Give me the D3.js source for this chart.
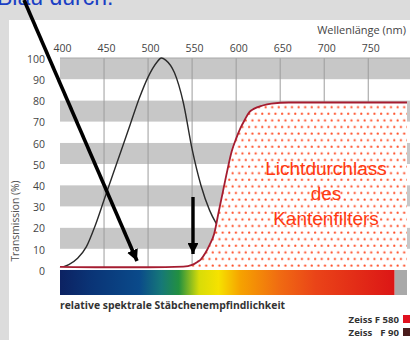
<!DOCTYPE html>
<html>
<head>
<meta charset="utf-8">
<script src="https://cdn.jsdelivr.net/npm/d3@7"></script>
<style>
  html, body { margin: 0; padding: 0; background: #dcdcdc; }
  svg { display: block; }
</style>
</head>
<body>
<svg id="chart" width="410" height="340"></svg>
<script>
// Wavelength tick labels (nm) and transmission ticks (%)
const xTicks = [400, 450, 500, 550, 600, 650, 700, 750];
const yTicks = [0, 10, 20, 30, 40, 50, 60, 70, 80, 90, 100];

// Relative spectral sensitivity of the rods (%)
const rodNm  = [400, 410, 420, 430, 440, 450, 460, 470, 480, 490, 500, 510, 515, 520, 530, 540, 550, 560, 570, 580, 590, 600, 610, 620, 630, 640, 660];
const rodVal = [1, 2.5, 5.5, 11, 21, 33, 45, 57, 69, 81, 91, 98, 100, 99, 93, 79, 57, 40, 28, 20, 13, 8, 4, 2, 1, 0.5, 0.3];

// Transmission of the edge filter Zeiss F 580 (%)
const filtNm  = [400, 450, 500, 540, 550, 556, 560, 565, 570, 575, 580, 585, 590, 595, 600, 605, 610, 615, 620, 630, 640, 660, 700, 794];
const filtVal = [1.5, 1.3, 1.3, 1.6, 2.4, 3.8, 5, 8, 12, 17, 27, 37, 47, 56, 62, 67, 71, 74.5, 76, 77.6, 78.5, 79, 79, 79];

// Legend entries
const legendNames  = ["Zeiss F 580", "Zeiss", "F 90"];
const legendColors = ["#e0101e", "#4a1c1c"];

// Colours of the visible spectrum strip (wavelength -> colour)
const specNm  = [400, 435, 490, 515, 535, 558, 580, 605, 650, 690, 780];
const specCol = ["#0c2262", "#0a3476", "#0a4a8a", "#167878", "#229040", "#d8dc08", "#f6e200", "#f6a200", "#f06a12", "#ea4418", "#dc1616"];

const svg = d3.select("#chart");

// white panel
svg.append("rect").attr("x", 9).attr("y", 20).attr("width", 401).attr("height", 320).attr("fill", "#ffffff");

const x = d3.scaleLinear().domain([400, 794]).range([60, 407]);
const y = d3.scaleLinear().domain([0, 100]).range([270, 58]);

// alternating grey bands (100-90 grey, 90-80 white, ...)
const bands = d3.range(0, 100, 10);
svg.append("g").selectAll("rect").data(bands).join("rect")
  .attr("x", x(400)).attr("width", 410 - x(400))
  .attr("y", d => y(d + 10)).attr("height", d => y(d) - y(d + 10))
  .attr("fill", d => (d / 10) % 2 === 1 ? "#c7c7c7" : "#ffffff");

// vertical grid lines
svg.append("g").selectAll("line").data(xTicks.slice(1).concat([800])).join("line")
  .attr("x1", d => x(d)).attr("x2", d => x(d))
  .attr("y1", y(100)).attr("y2", y(0))
  .attr("stroke", "#9c9c9c").attr("stroke-width", 1);
svg.append("line").attr("x1", 60).attr("x2", 410).attr("y1", y(100)).attr("y2", y(100))
  .attr("stroke", "#a8a8a8").attr("stroke-width", 1);

// top wavelength axis
const xAxis = d3.axisTop(x).tickValues(xTicks).tickSize(0).tickPadding(0);
const gx = svg.append("g").attr("transform", "translate(2,52)").call(xAxis);
gx.select(".domain").remove();
gx.selectAll("text").attr("font-family", "Open Sans").attr("font-size", 10.5).attr("fill", "#444");

// left transmission axis
const yAxis = d3.axisLeft(y).tickValues(yTicks).tickSize(0).tickPadding(0);
const gy = svg.append("g").attr("transform", "translate(45,1)").call(yAxis);
gy.select(".domain").remove();
gy.selectAll("text").attr("font-family", "Open Sans").attr("font-size", 10.5).attr("fill", "#444");

svg.append("text").attr("x", 406).attr("y", 34).attr("text-anchor", "end")
  .attr("font-family", "Open Sans").attr("font-size", 11).attr("fill", "#444")
  .text("Wellenlänge (nm)");

svg.append("text").attr("transform", "translate(19,221) rotate(-90)").attr("text-anchor", "middle")
  .attr("font-family", "Open Sans").attr("font-size", 10.3).attr("fill", "#555")
  .text("Transmission (%)");

// spectrum strip
const defs = svg.append("defs");
const grad = defs.append("linearGradient").attr("id", "spec")
  .attr("gradientUnits", "userSpaceOnUse").attr("x1", x(400)).attr("x2", x(780)).attr("y1", 0).attr("y2", 0);
grad.selectAll("stop").data(specNm).join("stop")
  .attr("offset", d => (d - 400) / 380)
  .attr("stop-color", (d, i) => specCol[i]);
svg.append("rect").attr("x", x(400)).attr("y", y(0)).attr("width", x(780) - x(400)).attr("height", 25).attr("fill", "url(#spec)");
svg.append("rect").attr("x", x(780)).attr("y", y(0)).attr("width", x(794) - x(780)).attr("height", 25).attr("fill", "#a9a9a9");

// dotted fill pattern for the filter transmission
const pat = defs.append("pattern").attr("id", "dots").attr("patternUnits", "userSpaceOnUse")
  .attr("width", 6.6).attr("height", 13.2);
pat.append("rect").attr("width", 6.6).attr("height", 13.2).attr("fill", "#ffffff");
pat.append("circle").attr("cx", 1.6).attr("cy", 1.6).attr("r", 1.1).attr("fill", "#ff4a22");
pat.append("circle").attr("cx", 4.9).attr("cy", 8.2).attr("r", 1.1).attr("fill", "#ff4a22");

// rod sensitivity curve
const rodLine = d3.line().x(d => x(d[0])).y(d => y(d[1])).curve(d3.curveMonotoneX);
svg.append("path").datum(rodNm.map((n, i) => [n, rodVal[i]]))
  .attr("d", rodLine).attr("fill", "none").attr("stroke", "#2a2a2a").attr("stroke-width", 1.4);

// filter transmission area and outline
const filtData = filtNm.map((n, i) => [n, filtVal[i]]);
const area = d3.area().x(d => x(d[0])).y0(y(0)).y1(d => y(d[1])).curve(d3.curveMonotoneX);
svg.append("path").datum(filtData).attr("d", area).attr("fill", "url(#dots)");
const filtLine = d3.line().x(d => x(d[0])).y(d => y(d[1])).curve(d3.curveMonotoneX);
svg.append("path").datum(filtData).attr("d", filtLine)
  .attr("fill", "none").attr("stroke", "#a51c30").attr("stroke-width", 1.8);

// annotation inside the filled area
const noteLines = ["Lichtdurchlass", "des", "Kantenfilters"];
svg.append("g").selectAll("text").data(noteLines).join("text")
  .attr("x", 326).attr("y", (d, i) => 175 + i * 25).attr("text-anchor", "middle")
  .attr("font-family", "Liberation Sans").attr("font-size", 19).attr("fill", "#ff3a12")
  .text(d => d);

// caption below the strip
svg.append("text").attr("x", 60).attr("y", 309)
  .attr("font-family", "Open Sans").attr("font-weight", "bold").attr("font-size", 10.4).attr("fill", "#333")
  .text("relative spektrale Stäbchenempfindlichkeit");

// legend
const legFont = 9.6;
const leg1 = svg.append("text").attr("x", 399).attr("y", 322.5).attr("text-anchor", "end")
  .attr("font-family", "Open Sans").attr("font-weight", "bold").attr("font-size", legFont).attr("fill", "#333")
  .text(legendNames[0]);
const legStart = 399 - leg1.node().getComputedTextLength();
svg.append("text").attr("x", legStart).attr("y", 336)
  .attr("font-family", "Open Sans").attr("font-weight", "bold").attr("font-size", legFont).attr("fill", "#333")
  .text(legendNames[1]);
svg.append("text").attr("x", 399).attr("y", 336).attr("text-anchor", "end")
  .attr("font-family", "Open Sans").attr("font-weight", "bold").attr("font-size", legFont).attr("fill", "#333")
  .text(legendNames[2]);
svg.append("g").selectAll("rect").data(legendColors).join("rect")
  .attr("x", 403).attr("y", (d, i) => 315 + i * 13).attr("width", 8).attr("height", 8).attr("fill", d => d);

// heading above the panel and the pointer arrows
svg.append("text").attr("x", -3).attr("y", 5)
  .attr("font-family", "Liberation Sans").attr("font-size", 23).attr("fill", "#1a3fc4")
  .text("Blau durch:");

const marker = defs.append("marker").attr("id", "head").attr("viewBox", "0 0 10 10")
  .attr("refX", 10).attr("refY", 5).attr("markerWidth", 3.2).attr("markerHeight", 3.2)
  .attr("orient", "auto").attr("markerUnits", "strokeWidth");
marker.append("path").attr("d", "M0,0 L10,5 L0,10 Z").attr("fill", "#000");

svg.append("line").attr("x1", 24).attr("y1", 0).attr("x2", 137).attr("y2", 261)
  .attr("stroke", "#000").attr("stroke-width", 3.6).attr("marker-end", "url(#head)");
svg.append("line").attr("x1", 193).attr("y1", 197).attr("x2", 193).attr("y2", 254)
  .attr("stroke", "#000").attr("stroke-width", 3.4).attr("marker-end", "url(#head)");
</script>
</body>
</html>
